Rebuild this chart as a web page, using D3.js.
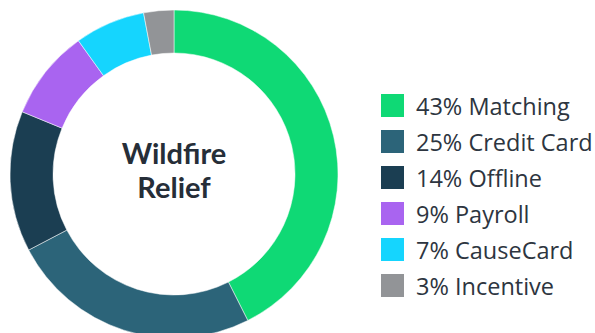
<!DOCTYPE html>
<html>
<head>
<meta charset="utf-8">
<script src="https://cdn.jsdelivr.net/npm/d3@7"></script>
<style>
  body { margin: 0; background: #fff; }
  svg { display: block; }
</style>
</head>
<body>
<svg id="chart" width="595" height="333"></svg>
<script>
// slice data, clockwise from 12 o'clock
const labels = ["Matching", "Credit Card", "Offline", "Payroll", "CauseCard", "Incentive"];
const values = [43, 25, 14, 9, 7, 3];
const colors = ["#0fd975", "#2c6479", "#1b3e52", "#a964f0", "#15d5fe", "#929497"];
const title = ["Wildfire", "Relief"];

const svg = d3.select("#chart");
const cx = 174, cy = 174;
const outerR = 164, innerR = 121;

const pie = d3.pie().sort(null).value(d => d.value);
const arc = d3.arc().innerRadius(innerR).outerRadius(outerR);
const data = labels.map((l, i) => ({label: l, value: values[i], color: colors[i]}));

const g = svg.append("g").attr("transform", `translate(${cx},${cy})`);
g.selectAll("path.slice")
  .data(pie(data))
  .join("path")
    .attr("class", "slice")
    .attr("d", arc)
    .attr("fill", d => d.data.color)
    .attr("stroke", "#fff")
    .attr("stroke-width", 0.5);

// center label
g.append("text")
  .attr("text-anchor", "middle")
  .attr("font-family", "Lato, sans-serif")
  .attr("font-weight", 700)
  .attr("font-size", 29)
  .attr("fill", "#262e38")
  .selectAll("tspan")
  .data(title)
  .join("tspan")
    .attr("x", 0)
    .attr("y", (d, i) => -10 + i * 34)
    .text(d => d);

// legend
const ly = d3.scaleBand()
  .domain(labels)
  .range([87.5, 303.5]);

const legend = svg.append("g").attr("class", "legend");
const item = legend.selectAll("g")
  .data(data)
  .join("g")
    .attr("transform", d => `translate(381,${ly(d.label) + ly.bandwidth() / 2})`);
item.append("rect")
  .attr("x", 0)
  .attr("y", -11.5)
  .attr("width", 23)
  .attr("height", 23)
  .attr("fill", d => d.color);
item.append("text")
  .attr("x", 35)
  .attr("y", 9.5)
  .attr("font-family", "'Open Sans', sans-serif")
  .attr("font-size", 23.5)
  .attr("fill", "#2d3540")
  .text(d => `${d.value}% ${d.label}`);
</script>
</body>
</html>
